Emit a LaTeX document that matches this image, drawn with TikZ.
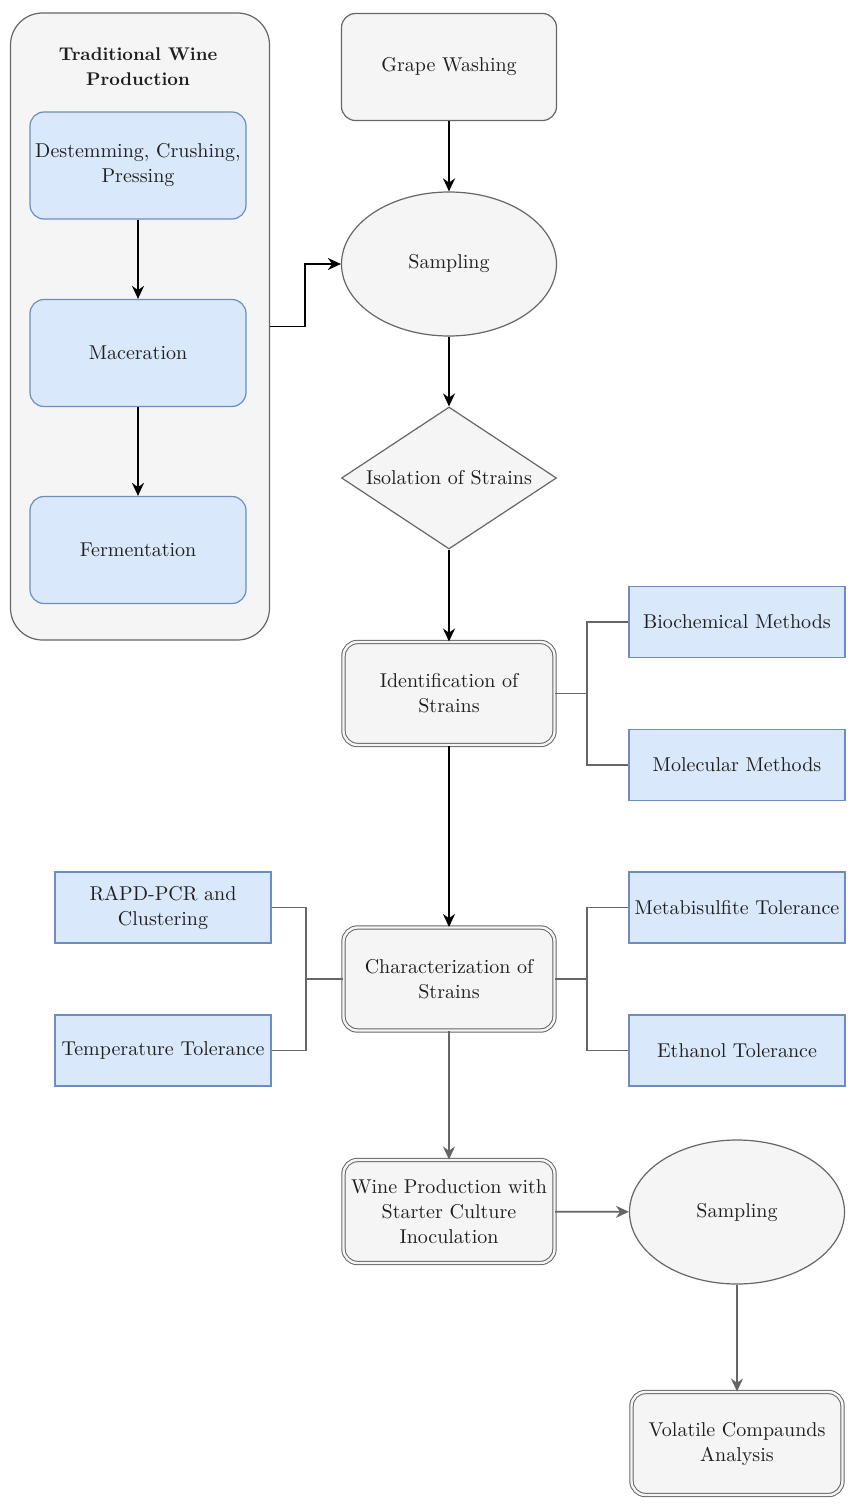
\documentclass[tikz,border=0pt]{standalone}
\usepackage{fontspec}
\setmainfont{lmroman10}[Extension=.otf, UprightFont=*-regular, BoldFont=*-bold, ItalicFont=*-italic, BoldItalicFont=*-bolditalic]
\usetikzlibrary{arrows.meta,shapes.geometric}

\definecolor{gfill}{HTML}{F5F5F5}
\definecolor{gline}{HTML}{666666}
\definecolor{bfill}{HTML}{DAE8FC}
\definecolor{bline}{HTML}{6C8EBF}

\begin{document}
\begin{tikzpicture}[
  x=1pt, y=-1pt,
  font=\fontsize{20}{25}\selectfont,
  text=black!88,
  gbox/.style={draw=gline, fill=gfill, line width=1.2pt, rounded corners=14pt, minimum width=215pt, minimum height=107pt, inner sep=0pt, align=center},
  bbox/.style={draw=bline, fill=bfill, line width=1.2pt, minimum width=216pt, minimum height=71pt, inner sep=0pt, align=center},
  rbox/.style={bbox, rounded corners=14pt, minimum height=107pt},
  dbox/.style={gbox, double=gfill, double distance=2.4pt, line width=1pt, minimum width=211pt, minimum height=103pt},
  oval/.style={ellipse, draw=gline, fill=gfill, line width=1.2pt, minimum width=215pt, minimum height=144pt, inner sep=0pt},
  dmnd/.style={diamond, draw=gline, fill=gfill, line width=1.2pt, minimum width=215pt, minimum height=142pt, inner sep=0pt},
  arr/.style={-{Stealth[length=13pt,width=12pt]}, draw=black, line width=1.7pt},
  garr/.style={arr, draw=gline},
  lnk/.style={draw=gline, line width=1.3pt},
]
\useasboundingbox (0,0) rectangle (849,1509);

\node [gbox, minimum width=259pt, minimum height=627pt, rounded corners=32pt] (trad) at (140,326.5) {};
\node [font=\fontsize{18.4}{25}\selectfont\bfseries, align=center] (tradttl) at (138,67) {Traditional Wine\\Production};
\node [rbox] (destm) at (138,165.5) {Destemming, Crushing,\\Pressing};
\node [rbox] (macer) at (138,353) {Maceration};
\node [rbox] (ferm) at (138,550) {Fermentation};

\node [gbox] (wash) at (449,67) {Grape Washing};
\node [oval] (samp) at (449,264) {Sampling};
\node [dmnd, label={center:Isolation of Strains}] (isol) at (449,478) {};
\node [dbox] (ident) at (449,693.5) {Identification of\\Strains};
\node [bbox] (bioc) at (737,622) {Biochemical Methods};
\node [bbox] (molc) at (737,765) {Molecular Methods};

\node [dbox] (chars) at (449,979) {Characterization of\\Strains};
\node [bbox] (rapd) at (163,907.5) {RAPD-PCR and\\Clustering};
\node [bbox] (temp) at (163,1050.5) {Temperature Tolerance};
\node [bbox] (meta) at (737,907.5) {Metabisulfite Tolerance};
\node [bbox] (ethn) at (737,1050.5) {Ethanol Tolerance};

\node [dbox] (winep) at (449,1211.5) {Wine Production with\\Starter Culture\\Inoculation};
\node [oval] (samp2) at (737,1212) {Sampling};
\node [dbox] (volat) at (737,1443.5) {Volatile Compaunds\\Analysis};

\draw [arr] (destm) -- (macer);
\draw [arr] (macer) -- (ferm);
\draw [arr] (trad.east) -- ++(35,0) |- (samp.west);
\draw [arr] (wash) -- (samp);
\draw [arr] (samp) -- (isol);
\draw [arr] (isol) -- (ident);
\draw [lnk] (ident.east) -- ++(32,0) coordinate (jr1) |- (bioc.west);
\draw [lnk] (jr1) |- (molc.west);
\draw [arr] (ident) -- (chars);

\draw [lnk] (chars.west) -- ++(-37,0) coordinate (jl) |- (rapd.east);
\draw [lnk] (jl) |- (temp.east);
\draw [lnk] (chars.east) -- ++(32,0) coordinate (jr2) |- (meta.west);
\draw [lnk] (jr2) |- (ethn.west);

\draw [garr] (chars) -- (winep);
\draw [garr] (winep) -- (samp2);
\draw [garr] (samp2) -- (volat);

\end{tikzpicture}
\end{document}
